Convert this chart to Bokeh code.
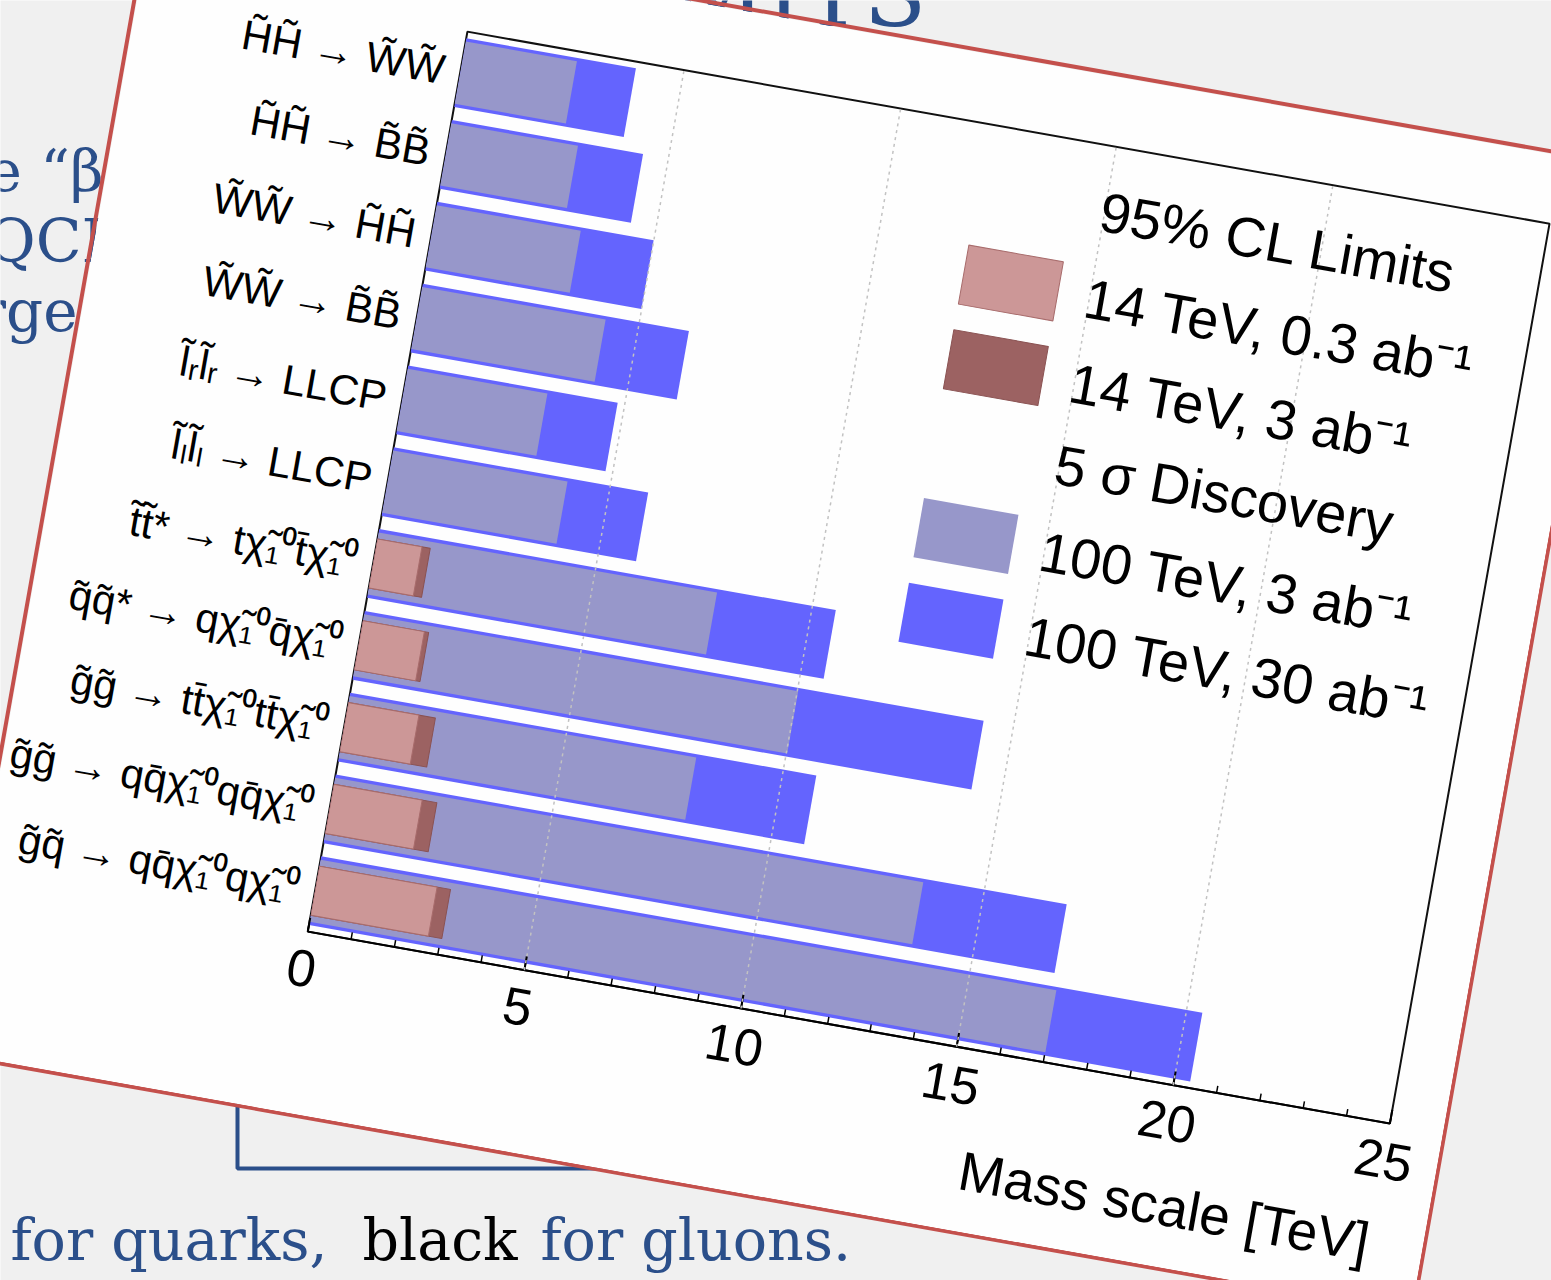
from bokeh.plotting import figure
from bokeh.models import (ColumnDataSource, FactorRange, Range1d, FixedTicker,
                          Legend, LegendItem, Title, InlineStyleSheet)
from bokeh.core.properties import value
from bokeh.embed import file_html
from bokeh.resources import INLINE

# ---------------------------------------------------------------- data
processes = [
    "H̃H̃ → W̃W̃",
    "H̃H̃ → B̃B̃",
    "W̃W̃ → H̃H̃",
    "W̃W̃ → B̃B̃",
    "l̃ᵣl̃ᵣ → LLCP",
    "l̃ₗl̃ₗ → LLCP",
    "t̃t̃* → tχ̃₁⁰t̄χ̃₁⁰",
    "q̃q̃* → qχ̃₁⁰q̄χ̃₁⁰",
    "g̃g̃ → tt̄χ̃₁⁰tt̄χ̃₁⁰",
    "g̃g̃ → qq̄χ̃₁⁰qq̄χ̃₁⁰",
    "g̃q̃ → qq̄χ̃₁⁰qχ̃₁⁰",
]
# mass reach in TeV
disc_100tev_30ab = [3.92, 4.42, 5.00, 6.15, 4.84, 5.88, 10.55, 14.30, 10.77, 16.89, 20.36]
disc_100tev_3ab = [2.57, 2.93, 3.33, 4.24, 3.23, 4.03, 7.82, 10.03, 8.01, 13.59, 17.00]
limit_14tev_3ab = [None, None, None, None, None, None, 1.22, 1.52, 2.01, 2.38, 3.03]
limit_14tev_03ab = [None, None, None, None, None, None, 1.03, 1.42, 1.63, 2.04, 2.72]

mass_ticks = [0, 5, 10, 15, 20, 25]
grid_ticks = [5, 10, 15, 20]

legend_header_limits = "95% CL Limits"
legend_header_disc = "5 σ Discovery"
legend_labels = ["14 TeV, 0.3 ab⁻¹", "14 TeV, 3 ab⁻¹",
                 "100 TeV, 3 ab⁻¹", "100 TeV, 30 ab⁻¹"]
x_label = "Mass scale [TeV]"

slide_title = "LIMITS"
slide_lines = ["the “β", "QCD", "large"]
footer_parts = ["for quarks,", "black", "for gluons."]

# ---------------------------------------------------------------- styles
SANS = "Liberation Sans"
SERIF = "DejaVu Serif"
SLIDE_BLUE = "#2b4f8a"
C_BLUE = "#6464fe"
C_PURPLE = "#9797ca"
C_BROWN = "#9c6262"
C_PINK = "#cc9797"
TILT_DEG = 10.06

# ---------------------------------------------------------------- slide behind the chart
bg = figure(width=1551, height=1280, x_range=Range1d(0, 1551), y_range=Range1d(1280, 0),
            x_axis_type=None, y_axis_type=None, min_border=0,
            output_backend="svg", toolbar_location=None,
            background_fill_color="#f0f0f0", border_fill_color="#f0f0f0",
            outline_line_color=None)
bg.grid.visible = False

bg.text(x=[926], y=[-6], text=[slide_title], text_font=value(SERIF),
        text_font_size="92px", text_color=SLIDE_BLUE, text_align="right",
        text_baseline="alphabetic")
bg.text(x=[103, 77], y=[170, 310], text=[slide_lines[0], slide_lines[2]],
        text_font=value(SERIF), text_font_size="58px", text_color=SLIDE_BLUE,
        text_align="right", text_baseline="alphabetic")
bg.text(x=[-14], y=[240], text=[slide_lines[1]], text_font=value(SERIF),
        text_font_size="60px", text_color=SLIDE_BLUE, text_align="left",
        text_baseline="alphabetic")
bg.quad(left=[237], right=[900], top=[1000], bottom=[1168], fill_alpha=0,
        line_color=SLIDE_BLUE, line_width=4)
bg.text(x=[10, 362, 540], y=[1239, 1239, 1239], text=footer_parts,
        text_font=value(SERIF), text_font_size="57px",
        text_color=[SLIDE_BLUE, "#000000", SLIDE_BLUE], text_baseline="alphabetic")

# ---------------------------------------------------------------- chart card
# the card is tilted by rotating its drawing surface, leaving the host box untouched
tilt_css = InlineStyleSheet(css=f"""
.bk-Canvas {{
  transform: rotate({TILT_DEG}deg);
  transform-origin: 50% 50%;
  outline: 4px solid #c4504c;
}}
""")

p = figure(y_range=FactorRange(factors=list(reversed(processes))),
           x_range=Range1d(0, 25),
           frame_width=1099, frame_height=914,
           min_border_left=331, min_border_right=54,
           min_border_top=69, min_border_bottom=182,
           output_backend="svg", toolbar_location=None,
           background_fill_color="#fefefe", border_fill_color="#fefefe",
           outline_line_color="#111111", outline_line_width=2,
           styles={"position": "absolute", "left": "40.3px", "top": "26.4px"},
           stylesheets=[tilt_css])

main_src = ColumnDataSource(dict(proc=processes, d30=disc_100tev_30ab, d3=disc_100tev_3ab))
lhc_idx = [i for i, v in enumerate(limit_14tev_3ab) if v is not None]
lhc_src = ColumnDataSource(dict(proc=[processes[i] for i in lhc_idx],
                                l3=[limit_14tev_3ab[i] for i in lhc_idx],
                                l03=[limit_14tev_03ab[i] for i in lhc_idx]))

r_blue = p.hbar(y="proc", right="d30", height=0.84, source=main_src,
                fill_color=C_BLUE, line_color=None)
r_purple = p.hbar(y="proc", right="d3", height=0.76, source=main_src,
                  fill_color=C_PURPLE, line_color=None)
r_brown = p.hbar(y="proc", right="l3", height=0.6, source=lhc_src,
                 fill_color=C_BROWN, line_color="#8a5252", line_width=1)
r_pink = p.hbar(y="proc", right="l03", height=0.6, source=lhc_src,
                fill_color=C_PINK, line_color="#a86c6c", line_width=1)
# blank swatch used by the legend section headers
r_blank = p.hbar(y=[], right=[], height=0.5, fill_alpha=0, line_alpha=0)

# axes
xa = p.xaxis[0]
xa.ticker = FixedTicker(ticks=mass_ticks, minor_ticks=list(range(0, 26)))
xa.major_tick_in = 14
xa.major_tick_out = 0
xa.minor_tick_in = 7
xa.minor_tick_out = 0
xa.axis_line_width = 2
xa.major_tick_line_width = 2
xa.minor_tick_line_width = 1.5
xa.major_label_text_font = SANS
xa.major_label_text_font_size = "52px"
xa.major_label_text_color = "#000000"
xa.major_label_standoff = 19

ya = p.yaxis[0]
ya.major_tick_line_color = None
ya.minor_tick_line_color = None
ya.axis_line_color = None
ya.major_label_text_font = SANS
ya.major_label_text_font_size = "42px"
ya.major_label_text_color = "#000000"
ya.major_label_standoff = 10

p.ygrid.visible = False
p.xgrid.ticker = FixedTicker(ticks=grid_ticks)
p.xgrid.grid_line_color = "#c2c2c2"
p.xgrid.grid_line_dash = "3 4"
p.xgrid.grid_line_width = 1.5
p.xgrid.level = "overlay"

p.add_layout(Title(text=x_label, align="right", text_font=SANS,
                   text_font_size="55px", text_font_style="normal",
                   text_color="#000000", standoff=60), "below")

legend = Legend(items=[
    LegendItem(label=legend_header_limits, renderers=[r_blank]),
    LegendItem(label=legend_labels[0], renderers=[r_pink]),
    LegendItem(label=legend_labels[1], renderers=[r_brown]),
    LegendItem(label=legend_header_disc, renderers=[r_blank]),
    LegendItem(label=legend_labels[2], renderers=[r_purple]),
    LegendItem(label=legend_labels[3], renderers=[r_blue]),
], location=(519, 381), glyph_width=120, glyph_height=75, label_height=75,
    label_standoff=16, spacing=10, padding=0, margin=0,
    border_line_color=None, background_fill_alpha=0,
    label_text_font=SANS, label_text_font_size="56px", label_text_color="#000000")
p.add_layout(legend)

open("out.html", "w").write(file_html([bg, p], INLINE))
